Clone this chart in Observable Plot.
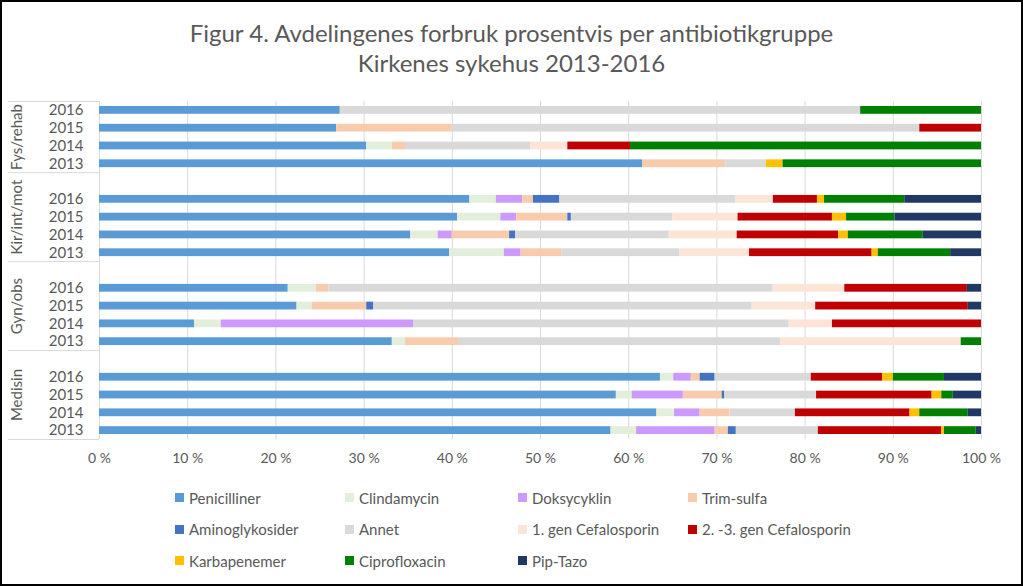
<!DOCTYPE html>
<html>
<head>
<meta charset="utf-8">
<script src="https://cdn.jsdelivr.net/npm/d3@7"></script>
<script src="https://cdn.jsdelivr.net/npm/@observablehq/plot@0.6"></script>
<style>
  html, body { margin: 0; padding: 0; background: #fff; }
  #wrap { position: relative; width: 1023px; height: 586px; overflow: hidden; font-family: Lato, "Open Sans", sans-serif; color: #595959; background: #fff; }
  #frame { position: absolute; left: 0; top: 0; width: 1023px; height: 586px; box-sizing: border-box; border: 2px solid #000; pointer-events: none; }
  .title { position: absolute; left: 0; width: 1023px; text-align: center; font-size: 24px; line-height: 30px; color: #595959; white-space: nowrap; }
  #chart { position: absolute; left: 0; top: 0; line-height: 0; }
  #chart svg { display: block; }
  #legend { position: absolute; left: 175px; top: 482px; display: grid; grid-template-columns: 170px 173px 170px auto; grid-auto-rows: 31.5px; font-size: 15px; }
  .item { display: flex; align-items: center; white-space: nowrap; }
  .sw { width: 9px; height: 9px; margin-right: 5px; flex: none; }
</style>
</head>
<body>
<div id="wrap">
  <div class="title" id="t1" style="top:18px">Figur 4. Avdelingenes forbruk prosentvis per antibiotikgruppe</div>
  <div class="title" id="t2" style="top:48px">Kirkenes sykehus 2013-2016</div>
  <div id="chart"></div>
  <div id="legend"></div>
  <div id="frame"></div>
</div>
<script>
// Departments (top to bottom) and years within each department (top to bottom)
const groups = ["Fys/rehab", "Kir/int/mot", "Gyn/obs", "Medisin"];
const years = ["2016", "2015", "2014", "2013"];

// Antibiotic groups (stack order) and colours
const series = ["Penicilliner", "Clindamycin", "Doksycyklin", "Trim-sulfa", "Aminoglykosider", "Annet",
  "1. gen Cefalosporin", "2. -3. gen Cefalosporin", "Karbapenemer", "Ciprofloxacin", "Pip-Tazo"];
const colors = ["#5B9BD5", "#E2EFDA", "#CC99FF", "#F8CBAD", "#4472C4", "#D9D9D9",
  "#FCE4D6", "#C00000", "#FFC000", "#008000", "#203864"];

// Percent values, row order: Fys 2016..2013, Kir 2016..2013, Gyn 2016..2013, Medisin 2016..2013
const penicilliner   = [27.3, 26.9, 30.3, 61.6, 42.0, 40.6, 35.3, 39.7, 21.4, 22.4, 10.8, 33.2, 63.6, 58.6, 63.2, 58.0];
const clindamycin    = [0, 0, 2.9, 0, 3.0, 4.9, 3.1, 6.2, 3.2, 1.7, 3.0, 1.5, 1.5, 1.8, 2.0, 2.9];
const doksycyklin    = [0, 0, 0, 0, 3.0, 1.8, 1.6, 1.9, 0, 0, 21.8, 0, 2.0, 5.8, 2.9, 8.9];
const trimSulfa      = [0, 13.1, 1.5, 9.4, 1.2, 5.8, 6.5, 4.6, 1.4, 6.2, 0, 6.0, 1.0, 4.4, 3.4, 1.5];
const aminoglykosider= [0, 0, 0, 0, 3.0, 0.4, 0.7, 0, 0, 0.8, 0, 0, 1.7, 0.3, 0, 0.9];
const annet          = [59.0, 53.0, 14.2, 4.6, 19.9, 11.5, 17.4, 13.4, 50.3, 42.9, 42.6, 36.5, 10.9, 10.4, 7.4, 9.3];
const cef1           = [0, 0, 4.2, 0, 4.3, 7.4, 7.7, 7.9, 8.2, 7.2, 4.9, 20.5, 0, 0, 0, 0];
const cef23          = [0, 7.0, 7.1, 0, 5.0, 10.7, 11.5, 13.9, 13.9, 17.3, 16.9, 0, 8.1, 13.1, 13.0, 14.0];
const karbapenemer   = [0, 0, 0, 1.9, 0.8, 1.6, 1.1, 0.7, 0, 0, 0, 0, 1.2, 1.1, 1.1, 0.3];
const ciprofloxacin  = [13.7, 0, 39.8, 22.5, 9.1, 5.5, 8.5, 8.2, 0, 0, 0, 2.3, 5.8, 1.3, 5.5, 3.6];
const pipTazo        = [0, 0, 0, 0, 8.7, 9.8, 6.6, 3.5, 1.6, 1.5, 0, 0, 4.2, 3.2, 1.5, 0.6];

const xTicks = [0, 10, 20, 30, 40, 50, 60, 70, 80, 90, 100];

const valueArrays = [penicilliner, clindamycin, doksycyklin, trimSulfa, aminoglykosider, annet,
  cef1, cef23, karbapenemer, ciprofloxacin, pipTazo];

// Row keys and band domain with a blank slot at the top of every group after the first
const rowKeys = [];
const domain = [];
groups.forEach((g, gi) => {
  if (gi > 0) domain.push("gap" + gi);
  years.forEach(y => { rowKeys.push(g + "|" + y); domain.push(g + "|" + y); });
});

const data = [];
series.forEach((s, si) => {
  valueArrays[si].forEach((v, ri) => data.push({series: s, key: rowKeys[ri], value: v}));
});

// group labels, positioned on the middle row of each group
const groupLabels = groups.map((g, gi) => ({label: g, key: g + "|2015", off: gi === 0 ? 1 : 0}));

// separator boundaries
const sepTop = [groups[0] + "|2016"];
const sepGaps = ["gap1", "gap2", "gap3"];
const sepBottom = [groups[3] + "|2013"];

const W = 1023, H = 475, mt = 101, mb = 36;
const band = (H - mt - mb) / domain.length;
const grey = "#595959";

const chart = Plot.plot({
  width: W,
  height: H,
  marginLeft: 99,
  marginRight: 42,
  marginTop: mt,
  marginBottom: mb,
  style: {fontFamily: "Lato, 'Open Sans', sans-serif", background: "transparent", overflow: "visible"},
  x: {domain: [0, 100]},
  y: {type: "band", domain, padding: 0, round: false},
  color: {domain: series, range: colors},
  marks: [
    Plot.ruleX(xTicks, {x: d => d, stroke: "#D9D9D9", strokeWidth: 1}),
    Plot.barX(data, Plot.stackX({y: "key", x: "value", fill: "series", order: series, insetTop: 5, insetBottom: 5})),
    Plot.axisX(xTicks, {tickSize: 0, tickPadding: 14, tickFormat: d => d + " %", fontSize: 14, fill: grey, label: null}),
    Plot.axisY({tickSize: 0, tickPadding: 16, tickFormat: k => k.startsWith("gap") ? "" : k.split("|")[1], fontSize: 15, fill: grey, label: null}),
    Plot.ruleY(sepTop, {y: d => d, x1: -10.3, x2: 0, dy: -band / 2, stroke: "#D9D9D9"}),
    Plot.ruleY(sepGaps, {y: d => d, x1: -10.3, x2: 0, dy: -band / 2, stroke: "#D9D9D9"}),
    Plot.ruleY(sepBottom, {y: d => d, x1: -10.3, x2: 0, dy: band / 2, stroke: "#D9D9D9"}),
    Plot.text(groupLabels.filter(d => d.off === 0), {y: "key", text: "label", frameAnchor: "left", dx: -82, rotate: -90, fontSize: 15, fill: grey, textAnchor: "middle"}),
    Plot.text(groupLabels.filter(d => d.off === 1), {y: "key", text: "label", frameAnchor: "left", dx: -82, dy: band / 2, rotate: -90, fontSize: 15, fill: grey, textAnchor: "middle"})
  ]
});
document.getElementById("chart").appendChild(chart);

// Legend
const legend = document.getElementById("legend");
series.forEach((s, i) => {
  const it = document.createElement("div");
  it.className = "item";
  const sw = document.createElement("span");
  sw.className = "sw";
  sw.style.background = colors[i];
  const tx = document.createElement("span");
  tx.textContent = s;
  it.appendChild(sw);
  it.appendChild(tx);
  legend.appendChild(it);
});
</script>
</body>
</html>
